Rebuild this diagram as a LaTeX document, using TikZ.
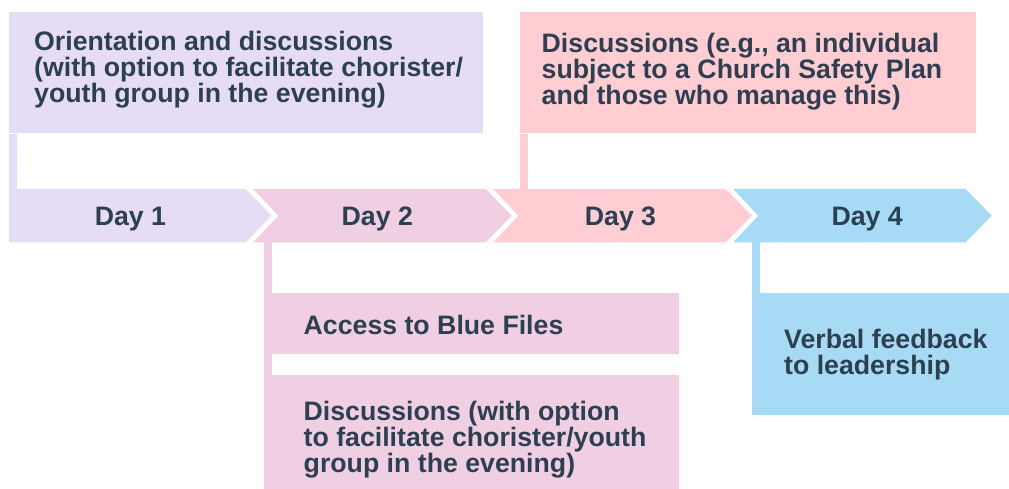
\documentclass[tikz,border=0pt]{standalone}
\usepackage{fontspec}
\setmainfont{Liberation Sans}
\usetikzlibrary{positioning}
\definecolor{lila}{RGB}{231,220,246}
\definecolor{rosa}{RGB}{240,207,227}
\definecolor{salmon}{RGB}{255,205,210}
\definecolor{celeste}{RGB}{167,218,244}
\definecolor{tinta}{RGB}{44,64,82}

\tikzset{
  caja/.style={rectangle, inner sep=0pt, anchor=north west},
  texto/.style={inner sep=0pt, align=left, text=tinta, font=\fontsize{26.7bp}{26bp}\selectfont\bfseries},
}

\begin{document}
\begin{tikzpicture}[x=1bp,y=-1bp]
  \useasboundingbox (0,0) rectangle (1009,489);

  % Flechas de los dias
  \fill[lila] (9,189) -- (245.7,189) -- (271.7,215.7) -- (245.7,242.3) -- (9,242.3) -- cycle;
  \foreach \i/\col in {1/rosa,2/salmon,3/celeste}{
    \fill[\col] (13.3+240*\i,189) -- (245.7+240*\i,189) -- (271.7+240*\i,215.7)
      -- (245.7+240*\i,242.3) -- (13.3+240*\i,242.3) -- (38.3+240*\i,215.7) -- cycle;
  }
  \coordinate (arriba) at (0,189.5);
  \coordinate (abajo) at (0,242);

  % Etiquetas
  \node[texto, anchor=base] (d1) at (130.5,225.7) {Day 1};
  \node[texto, anchor=base] (d2) at (377.3,225.7) {Day 2};
  \node[texto, anchor=base] (d3) at (620.5,225.7) {Day 3};
  \node[texto, anchor=base] (d4) at (867.2,225.7) {Day 4};

  % Cuadros de arriba
  \node[caja, fill=lila, minimum width=474bp, minimum height=121.3bp] (orient) at (9,12) {};
  \node[texto, below right=19bp and 25bp of orient.north west] (orientT)
    {Orientation and discussions\\(with option to facilitate chorister/\\youth group in the evening)};
  \node[caja, fill=salmon, minimum width=456bp, minimum height=121.3bp] (seguridad) at (520,12) {};
  \node[texto, below right=20.5bp and 21.5bp of seguridad.north west] (seguridadT)
    {Discussions (e.g., an individual\\subject to a Church Safety Plan\\and those who manage this)};

  % Cuadros de abajo
  \node[caja, fill=rosa, minimum width=415bp, minimum height=60.7bp] (acceso) at (264,293) {};
  \node[texto, below right=22bp and 39.5bp of acceso.north west] (accesoT) {Access to Blue Files};
  \node[caja, fill=rosa, minimum width=415bp, minimum height=114bp] (charla) at (264,375) {};
  \node[texto, below right=26bp and 39.5bp of charla.north west] (charlaT)
    {Discussions (with option\\to facilitate chorister/youth\\group in the evening)};
  \node[caja, fill=celeste, minimum width=257bp, minimum height=121.4bp] (feedback) at (752,293.3) {};
  \node[texto, below right=36bp and 32bp of feedback.north west] (feedbackT)
    {Verbal feedback\\to leadership};

  % Uniones
  \coordinate (u1) at ([xshift=8.3bp]orient.south west);
  \coordinate (u2) at ([xshift=7.5bp]charla.north west);
  \coordinate (u3) at ([xshift=7.7bp]seguridad.south west);
  \coordinate (u4) at ([xshift=7.7bp]feedback.north west);
  \fill[lila] (orient.south west) rectangle (u1 |- arriba);
  \fill[rosa] (acceso.north west |- abajo) rectangle (u2);
  \fill[salmon] (seguridad.south west) rectangle (u3 |- arriba);
  \fill[celeste] (feedback.north west |- abajo) rectangle (u4);
\end{tikzpicture}
\end{document}
